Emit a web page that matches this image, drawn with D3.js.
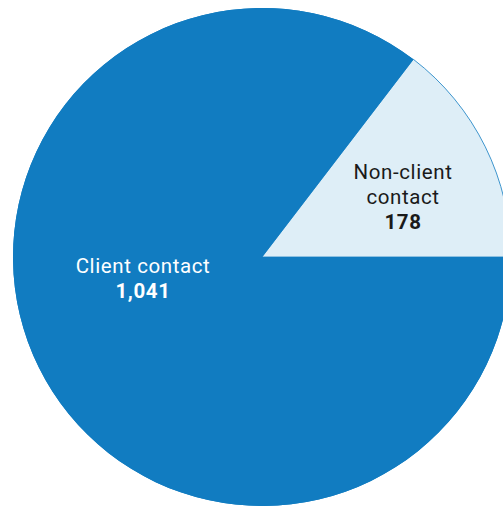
<!DOCTYPE html>
<html>
<head>
<meta charset="utf-8">
<script src="https://cdn.jsdelivr.net/npm/d3@7"></script>
<style>
  body { margin: 0; background: #fff; }
  svg { display: block; }
  text { font-family: Roboto, "Liberation Sans", Arial, sans-serif; letter-spacing: 0.6px; }
</style>
</head>
<body>
<div id="chart"></div>
<script>
// categories and values
var categories = ["Non-client contact", "Client contact"];
var values = [178, 1041];
var labelLines = [["Non-client", "contact"], ["Client contact"]];
var valueLabels = ["178", "1,041"];

var width = 503, height = 506;
var cx = 262, cy = 257, radius = 249;

// label anchor points (relative to the pie centre), placed by hand
var labelPos = [[141, -78], [-119, 16]];
var lineH = 25;

var color = d3.scaleOrdinal()
    .domain(categories)
    .range(["#deeef7", "#117cc1"]);
var textColor = d3.scaleOrdinal()
    .domain(categories)
    .range(["#1a1a1a", "#ffffff"]);

var svg = d3.select("#chart")
    .append("svg")
    .attr("width", width)
    .attr("height", height);

var g = svg.append("g")
    .attr("transform", "translate(" + cx + "," + cy + ")");

// non-client slice starts at 3 o'clock going counter-clockwise
var total = d3.sum(values);
var startA = Math.PI / 2 - (values[0] / total) * 2 * Math.PI;
var pie = d3.pie()
    .sort(null)
    .startAngle(startA)
    .endAngle(startA + 2 * Math.PI)
    .value(function(d) { return d; });

var arcs = pie(values);
var arc = d3.arc().innerRadius(0).outerRadius(radius);

g.selectAll("path.slice")
    .data(arcs)
    .enter()
    .append("path")
    .attr("class", "slice")
    .attr("d", arc)
    .attr("fill", function(d, i) { return color(categories[i]); })
    .attr("stroke", function(d, i) { return i == 0 ? "#117cc1" : "none"; })
    .attr("stroke-width", 0.8);

// redraw the blue slice on top so the stroke only shows on the outer edge
g.append("path")
    .attr("d", arc(arcs[1]))
    .attr("fill", color(categories[1]));

// one text element per line
arcs.forEach(function(d, i) {
    var lines = labelLines[i].concat([valueLabels[i]]);
    var lg = g.append("g")
        .attr("transform", "translate(" + labelPos[i][0] + "," + labelPos[i][1] + ")");
    lines.forEach(function(line, j) {
        lg.append("text")
            .attr("x", 0)
            .attr("y", j * lineH)
            .attr("text-anchor", "middle")
            .attr("font-size", 20.5)
            .attr("font-weight", j == lines.length - 1 ? "bold" : "normal")
            .attr("fill", textColor(categories[i]))
            .text(line);
    });
});
</script>
</body>
</html>
